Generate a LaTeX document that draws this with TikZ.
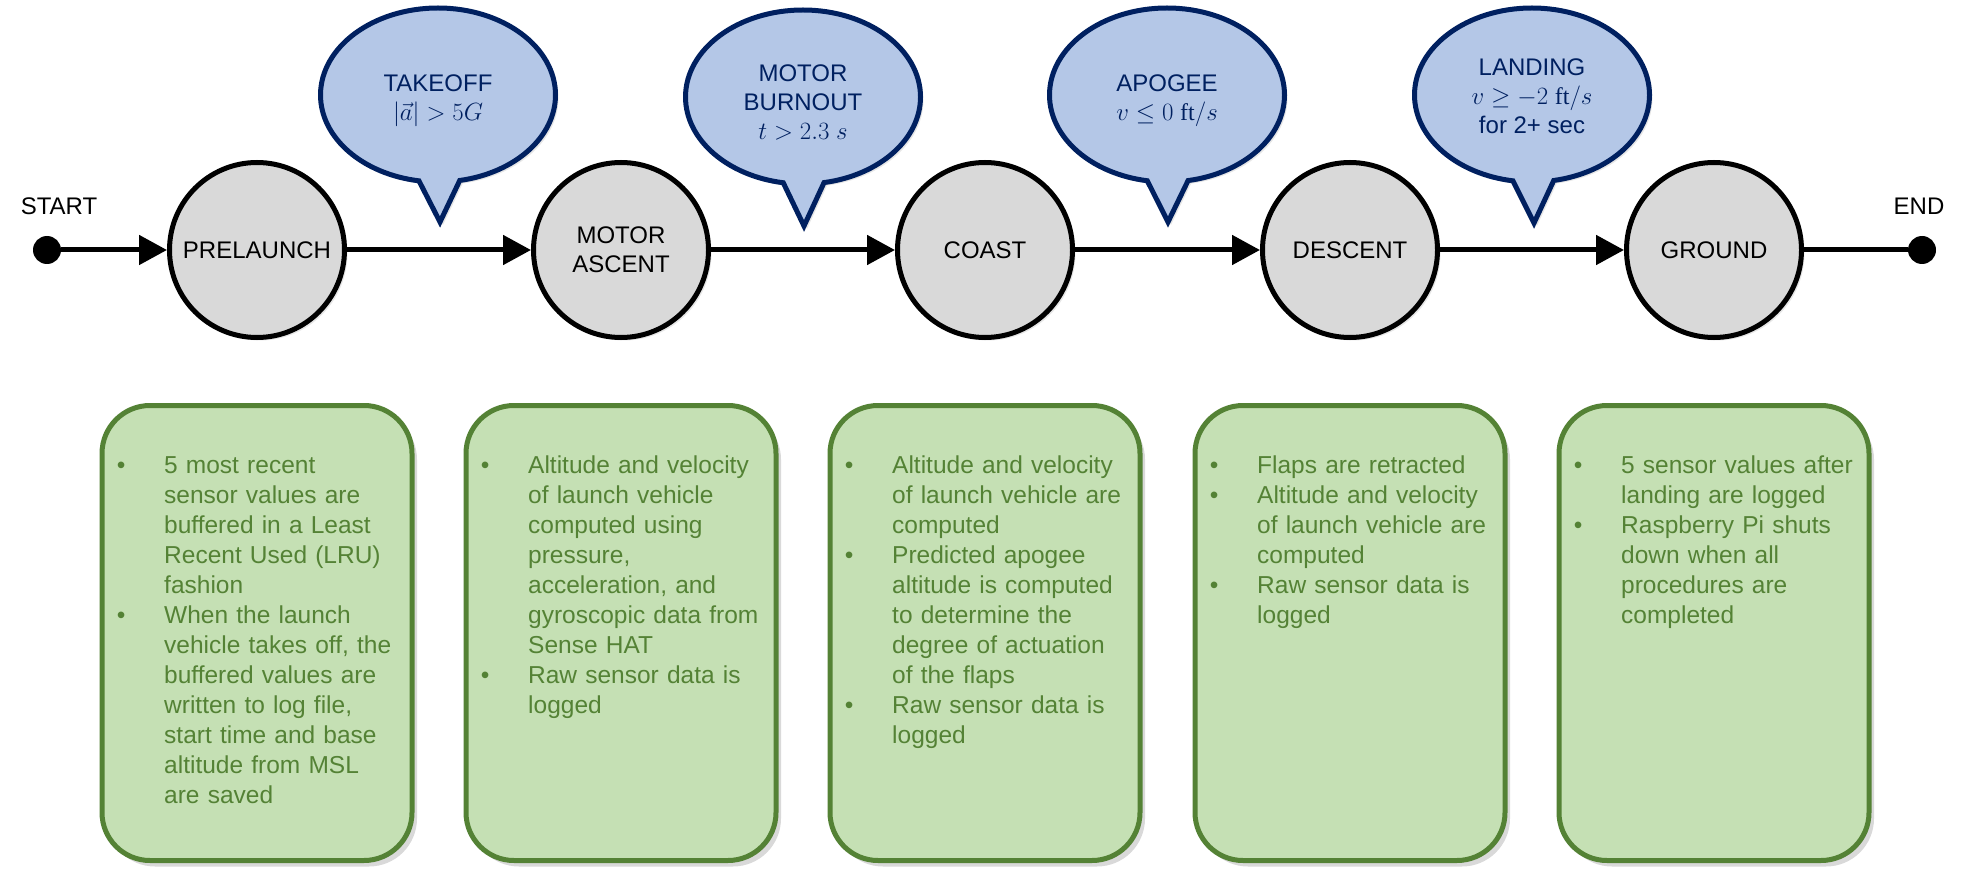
\documentclass[tikz,border=0pt]{standalone}
\usepackage{fontspec}
\setmainfont{Liberation Serif}
\setsansfont{Liberation Sans}
\usetikzlibrary{arrows.meta, positioning, shapes.geometric, shapes.callouts, shadows}
\definecolor{stategray}{RGB}{217, 217, 217}
\definecolor{condfill}{RGB}{180, 199, 231}
\definecolor{condnavy}{RGB}{0, 32, 96}
\definecolor{notefill}{RGB}{197, 224, 180}
\definecolor{notegreen}{RGB}{84, 130, 53}
\newcommand{\blt}{\leavevmode\llap{\textbullet\hspace{38.7pt}}}

\begin{document}
\begin{tikzpicture}[
        x=1pt, y=-1pt,
        state/.style={circle, draw=black, line width=5pt, fill=stategray, minimum size=175pt, inner sep=0pt, align=center, font=\sffamily\fontsize{24}{29}\selectfont, drop shadow={shadow xshift=3pt, shadow yshift=-3pt, opacity=0.2}},
        cond/.style={ellipse callout, draw=condnavy, line width=5pt, fill=condfill, minimum width=235pt, minimum height=174pt, inner sep=0pt, callout pointer arc=20, drop shadow={shadow xshift=3pt, shadow yshift=-3pt, opacity=0.2}},
        condtext/.style={inner sep=0pt, align=center, text=condnavy, font=\sffamily\fontsize{24}{29}\selectfont},
        note/.style={draw=notegreen, line width=5pt, fill=notefill, rounded corners=48pt, minimum width=310pt, minimum height=455pt, drop shadow={shadow xshift=5pt, shadow yshift=-6pt, opacity=0.3}},
        notetext/.style={anchor=base west, inner sep=0pt, text width=262pt, align=left, text=notegreen, font=\sffamily\fontsize{24.5}{30}\selectfont},
        dot/.style={circle, fill=black, minimum size=28pt, inner sep=0pt},
        lbl/.style={font=\sffamily\fontsize{24}{29}\selectfont},
        arr/.style={line width=5pt, -{Triangle[length=28pt, width=29pt]}},
        link/.style={line width=5pt}
      ]
        \useasboundingbox (0,0) rectangle (1979,877);
        % states
        \node[dot]   (start) at (47,250) {};
        \node[lbl]   (startlbl) at (59,206) {START};
        \node[state] (pre)  at (257,250) {PRELAUNCH};
        \node[state] (asc)  at (621,250) {MOTOR\\ASCENT};
        \node[state] (cst)  at (985,250) {COAST};
        \node[state] (dsc)  at (1350,250) {DESCENT};
        \node[state] (gnd)  at (1714,250) {GROUND};
        \node[dot]   (end) at (1922,250) {};
        \node[lbl]   (endlbl) at (1919,206) {END};
        \draw[arr] (start) -- (pre);
        \draw[arr] (pre) -- (asc);
        \draw[arr] (asc) -- (cst);
        \draw[arr] (cst) -- (dsc);
        \draw[arr] (dsc) -- (gnd);
        \draw[link] (gnd) -- (end);
        % transition conditions
        \node[cond, callout absolute pointer={(440,222)}]  (takeoff) at (438,95) {};
        \node[cond, callout absolute pointer={(804,226)}]  (burnout) at (803,97) {};
        \node[cond, callout absolute pointer={(1168,222)}] (apogee)  at (1167,95) {};
        \node[cond, callout absolute pointer={(1534,223)}] (landing) at (1532,95) {};
        \node[condtext] (takeofftxt) at (438,101) {TAKEOFF\\$|\vec{a}| > 5G$};
        \node[condtext] (burnouttxt) at (803,102) {MOTOR\\BURNOUT\\$t > 2.3\ s$};
        \node[condtext] (apogeetxt)  at (1167,101) {APOGEE\\$v \le 0\ \mathrm{ft}/s$};
        \node[condtext] (landingtxt) at (1532,96) {LANDING\\$v \ge -2\ \mathrm{ft}/s$\\for 2+ sec};
        % notes
        \node[note] (npre) at (257,633) {};
        \node[note] (nasc) at (621,633) {};
        \node[note] (ncst) at (985,633) {};
        \node[note] (ndsc) at (1350,633) {};
        \node[note] (ngnd) at (1714,633) {};
        \node[notetext] (tpre) at (164,473) {\blt 5 most recent\\sensor values are\\buffered in a Least\\Recent Used (LRU)\\fashion\\\blt When the launch\\vehicle takes off, the\\buffered values are\\written to log file,\\start time and base\\altitude from MSL\\are saved};
        \node[notetext] (tasc) at (528,473) {\blt Altitude and velocity\\of launch vehicle\\computed using\\pressure,\\acceleration, and\\gyroscopic data from\\Sense HAT\\\blt Raw sensor data is\\logged};
        \node[notetext] (tcst) at (892,473) {\blt Altitude and velocity\\of launch vehicle are\\computed\\\blt Predicted apogee\\altitude is computed\\to determine the\\degree of actuation\\of the flaps\\\blt Raw sensor data is\\logged};
        \node[notetext] (tdsc) at (1257,473) {\blt Flaps are retracted\\\blt Altitude and velocity\\of launch vehicle are\\computed\\\blt Raw sensor data is\\logged};
        \node[notetext] (tgnd) at (1621,473) {\blt 5 sensor values after\\landing are logged\\\blt Raspberry Pi shuts\\down when all\\procedures are\\completed};
      \end{tikzpicture}
\end{document}
